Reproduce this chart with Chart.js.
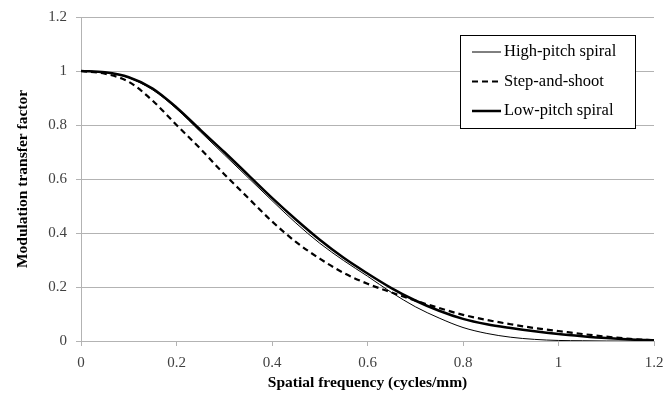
<!DOCTYPE html>
<html>
<head>
<meta charset="utf-8">
<script src="https://cdn.jsdelivr.net/npm/chart.js@4.4.0/dist/chart.umd.min.js"></script>
<style>
  html, body { margin: 0; padding: 0; background: #fff; }
  #wrap { width: 665px; height: 403px; position: relative; }
</style>
</head>
<body>
<div id="wrap"><canvas id="chart1"></canvas></div>
<script>
// spatial frequency (cycles/mm)
const freq = [0, 0.05, 0.1, 0.15, 0.2, 0.25, 0.3, 0.35, 0.4, 0.45, 0.5, 0.55, 0.6,
              0.65, 0.7, 0.75, 0.8, 0.85, 0.9, 0.95, 1.0, 1.05, 1.1, 1.15, 1.2];

const highPitch = [1.0, 0.995, 0.975, 0.93, 0.86, 0.775, 0.69, 0.605, 0.52, 0.437, 0.362, 0.298, 0.24,
                   0.18, 0.127, 0.085, 0.05, 0.028, 0.014, 0.006, 0.002, 0.001, 0, 0, 0];
const stepShoot = [1.0, 0.99, 0.96, 0.89, 0.80, 0.712, 0.618, 0.53, 0.443, 0.367, 0.305, 0.252, 0.212,
                   0.18, 0.15, 0.122, 0.097, 0.078, 0.062, 0.048, 0.037, 0.026, 0.016, 0.008, 0.003];
const lowPitch = [1.0, 0.995, 0.977, 0.935, 0.865, 0.782, 0.70, 0.615, 0.53, 0.45, 0.375, 0.308, 0.25,
                  0.196, 0.15, 0.112, 0.082, 0.062, 0.048, 0.036, 0.026, 0.018, 0.011, 0.006, 0.003];

const seriesNames = ["High-pitch spiral", "Step-and-shoot", "Low-pitch spiral"];
const xTickLabels = ["0", "0.2", "0.4", "0.6", "0.8", "1", "1.2"];
const yTickLabels = ["0", "0.2", "0.4", "0.6", "0.8", "1", "1.2"];

function toPoints(arr) {
  return arr.map(function (v, i) { return {x: freq[i], y: v}; });
}

const serif = "'Liberation Serif', 'Times New Roman', serif";
const gridGray = "#b3b3b3";

// legend box drawn inside the plot, top right
const boxLegend = {
  id: "boxLegend",
  afterDraw(chart) {
    const ctx = chart.ctx;
    const left = 460, top = 35, w = 175, h = 93;
    ctx.save();
    ctx.fillStyle = "#fff";
    ctx.fillRect(left, top, w, h);
    ctx.strokeStyle = "#000";
    ctx.lineWidth = 1;
    ctx.strokeRect(left + 0.5, top + 0.5, w, h);
    ctx.font = "16.5px " + serif;
    ctx.textBaseline = "middle";
    ctx.fillStyle = "#000";
    chart.data.datasets.forEach(function (ds, i) {
      const y = top + 17 + i * 29.5;
      ctx.beginPath();
      ctx.strokeStyle = ds.borderColor;
      ctx.lineWidth = ds.borderWidth;
      ctx.setLineDash(ds.borderDash || []);
      ctx.moveTo(472, y);
      ctx.lineTo(501, y);
      ctx.stroke();
      ctx.setLineDash([]);
      ctx.fillText(ds.label, 504, y);
    });
    ctx.restore();
  }
};

const ctx = document.getElementById("chart1").getContext("2d");
const myChart = new Chart(ctx, {
  type: "line",
  data: {
    datasets: [
      {
        label: seriesNames[0],
        data: toPoints(highPitch),
        borderColor: "#000",
        borderWidth: 1,
        pointRadius: 0,
        cubicInterpolationMode: "monotone",
        fill: false,
      },
      {
        label: seriesNames[1],
        data: toPoints(stepShoot),
        borderColor: "#000",
        borderWidth: 2.2,
        borderDash: [6, 4],
        pointRadius: 0,
        cubicInterpolationMode: "monotone",
        fill: false,
      },
      {
        label: seriesNames[2],
        data: toPoints(lowPitch),
        borderColor: "#000",
        borderWidth: 2.5,
        pointRadius: 0,
        cubicInterpolationMode: "monotone",
        fill: false,
      },
    ],
  },
  options: {
    responsive: true,
    maintainAspectRatio: false,
    animation: false,
    layout: { padding: { top: 17, right: 11, left: 0, bottom: 0 } },
    plugins: {
      legend: { display: false },
      tooltip: { enabled: false },
    },
    scales: {
      x: {
        type: "linear",
        min: 0,
        max: 1.2,
        ticks: {
          stepSize: 0.2,
          color: "#404040",
          font: { family: serif, size: 15 },
          padding: 8,
          maxRotation: 0,
          callback: function (v, i) { return xTickLabels[i]; },
        },
        grid: {
          drawOnChartArea: false,
          drawTicks: true,
          tickLength: 5,
          color: gridGray,
        },
        border: { color: gridGray },
        title: {
          display: true,
          text: "Spatial frequency (cycles/mm)",
          color: "#000",
          font: { family: serif, size: 15.5, weight: "bold" },
          padding: { top: 6, bottom: 11 },
        },
        afterFit: function (scale) {
          scale.height = 62;
          scale.paddingLeft = 0;
          scale.paddingRight = 0;
        },
      },
      y: {
        min: 0,
        max: 1.2,
        ticks: {
          stepSize: 0.2,
          color: "#404040",
          font: { family: serif, size: 15 },
          padding: 9,
          callback: function (v, i) { return yTickLabels[i]; },
        },
        grid: {
          color: gridGray,
          drawTicks: true,
          tickLength: 5,
        },
        border: { color: gridGray },
        title: {
          display: true,
          text: "Modulation transfer factor",
          color: "#000",
          font: { family: serif, size: 15.5, weight: "bold" },
          padding: { top: 14, bottom: 4 },
        },
        afterFit: function (scale) {
          scale.width = 81;
          scale.paddingTop = 0;
          scale.paddingBottom = 0;
        },
      },
    },
  },
  plugins: [boxLegend],
});
</script>
</body>
</html>
